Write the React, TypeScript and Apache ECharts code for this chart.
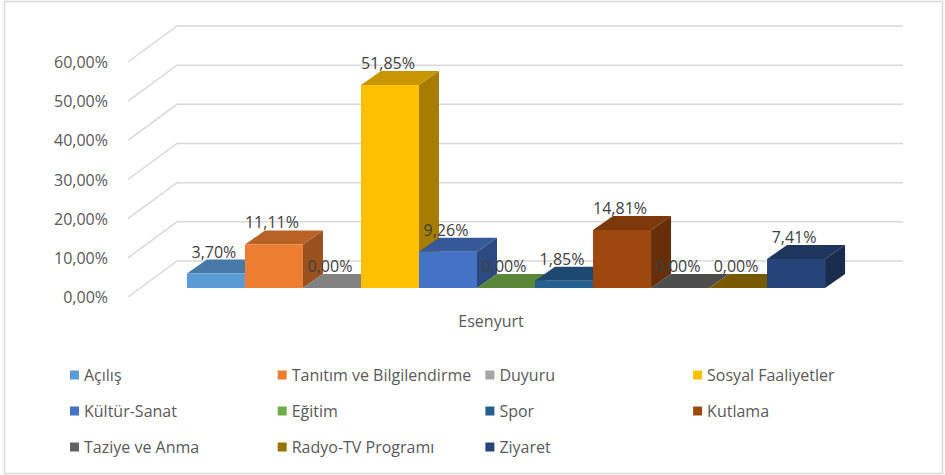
import React, { useEffect, useRef } from "react";
import * as echarts from "echarts";

const categories = ["Esenyurt"];
const seriesNames = [
  "Açılış",
  "Tanıtım ve Bilgilendirme",
  "Duyuru",
  "Sosyal Faaliyetler",
  "Kültür-Sanat",
  "Eğitim",
  "Spor",
  "Kutlama",
  "Taziye ve Anma",
  "Radyo-TV Programı",
  "Ziyaret",
];
const seriesValues = [3.7, 11.11, 0, 51.85, 9.26, 0, 1.85, 14.81, 0, 0, 7.41];
const seriesColors = [
  "#5B9BD5",
  "#ED7D31",
  "#A5A5A5",
  "#FFC000",
  "#4472C4",
  "#70AD47",
  "#255E91",
  "#9E480E",
  "#636363",
  "#997300",
  "#264478",
];
const yTicks = [0, 10, 20, 30, 40, 50, 60];

const FONT = "'Open Sans', sans-serif";
const WALL_DX = 49;
const WALL_DY = -36;
const BAR_FRONT = [12, -9];
const BAR_DEPTH = [20, -14];
const BAR_SHIFT = 3;
const BAND_FILL = 0.879;

function shade(hex: string, k: number) {
  const n = parseInt(hex.slice(1), 16);
  const r = Math.round(((n >> 16) & 255) * k);
  const g = Math.round(((n >> 8) & 255) * k);
  const b = Math.round((n & 255) * k);
  return `rgb(${r},${g},${b})`;
}

const fmt = (v: number) => v.toFixed(2).replace(".", ",") + "%";

export default function App() {
  const ref = useRef<HTMLDivElement>(null);
  useEffect(() => {
    if (!ref.current) return;
    const chart = echarts.init(ref.current, null, { renderer: "svg" });
    const n = seriesNames.length;

    const wallSeries: any = {
      type: "custom",
      name: "__wall",
      silent: true,
      z: 1,
      data: yTicks.map((v) => [0, v]),
      renderItem: (params: any, api: any) => {
        const cs = params.coordSys;
        const p = api.coord([0, api.value(1)]);
        const x0 = cs.x;
        const y = p[1];
        return {
          type: "polyline",
          shape: {
            points: [
              [x0, y],
              [x0 + WALL_DX, y + WALL_DY],
              [x0 + cs.width + WALL_DX, y + WALL_DY],
            ],
          },
          style: { stroke: "#d9d9d9", lineWidth: 1.5, fill: "none" },
        };
      },
    };

    const barSeries = seriesNames.map((name, i) => ({
      type: "custom",
      name,
      z: 2,
      itemStyle: { color: seriesColors[i] },
      data: [[0, seriesValues[i]]],
      renderItem: (params: any, api: any) => {
        const val = api.value(1);
        const top = api.coord([0, val]);
        const base = api.coord([0, 0]);
        const band = api.size([1, 0])[0];
        const barW = (band * BAND_FILL) / n;
        const center = top[0] + BAR_SHIFT;
        const left = center - (n / 2) * barW + i * barW;
        const x0 = left + BAR_FRONT[0];
        const x1 = x0 + barW;
        const yb = base[1] + BAR_FRONT[1];
        const yt = top[1] + BAR_FRONT[1];
        const dx = BAR_DEPTH[0];
        const dy = BAR_DEPTH[1];
        const c = seriesColors[i];
        return {
          type: "group",
          children: [
            {
              type: "polygon",
              z2: i * 3,
              shape: {
                points: [
                  [x1, yb],
                  [x1, yt],
                  [x1 + dx, yt + dy],
                  [x1 + dx, yb + dy],
                ],
              },
              style: { fill: shade(c, 0.65) },
            },
            {
              type: "polygon",
              z2: i * 3 + 1,
              shape: {
                points: [
                  [x0, yt],
                  [x1, yt],
                  [x1 + dx, yt + dy],
                  [x0 + dx, yt + dy],
                ],
              },
              style: { fill: shade(c, 0.78) },
            },
            {
              type: "rect",
              z2: i * 3 + 2,
              shape: { x: x0, y: yt, width: barW, height: yb - yt },
              style: { fill: c },
            },
            {
              type: "text",
              z2: 200,
              x: x0 + barW / 2 - 2,
              y: yt + dy - 8,
              style: {
                text: fmt(val),
                fill: "#404040",
                font: `16px ${FONT}`,
                align: "center",
                verticalAlign: "middle",
              },
            },
          ],
        };
      },
    }));

    const legends = seriesNames.map((name, i) => {
      const col = i % 4;
      const row = Math.floor(i / 4);
      return {
        data: [name],
        left: 70 + col * 207.7,
        top: 375 + row * 36 - 9,
        padding: 0,
        itemWidth: 9,
        itemHeight: 9,
        itemGap: 0,
        icon: "rect",
        selectedMode: false,
        textStyle: {
          fontSize: 16,
          lineHeight: 18,
          color: "#595959",
          fontFamily: FONT,
        },
      };
    });

    chart.setOption({
      animation: false,
      backgroundColor: "#ffffff",
      textStyle: { fontFamily: FONT },
      grid: { left: 128, top: 62, width: 726, height: 235 },
      xAxis: {
        type: "category",
        data: categories,
        axisLine: { show: false },
        axisTick: { show: false },
        splitLine: { show: false },
        axisLabel: {
          fontSize: 16,
          color: "#595959",
          margin: 16,
          fontFamily: FONT,
        },
      },
      yAxis: {
        type: "value",
        min: 0,
        max: 60,
        interval: 10,
        axisLine: { show: false },
        axisTick: { show: false },
        splitLine: { show: false },
        axisLabel: {
          fontSize: 16,
          color: "#595959",
          margin: 20,
          fontFamily: FONT,
          formatter: (v: number) => fmt(v),
        },
      },
      legend: legends,
      graphic: [
        {
          type: "rect",
          silent: true,
          shape: { x: 4.5, y: 1.5, width: 938, height: 472 },
          style: { fill: "none", stroke: "#d9d9d9", lineWidth: 1.5 },
        },
      ],
      series: [wallSeries, ...barSeries],
    });
    return () => chart.dispose();
  }, []);
  return (
    <div
      ref={ref}
      style={{ position: "fixed", left: 0, top: 0, width: 945, height: 475 }}
    />
  );
}
